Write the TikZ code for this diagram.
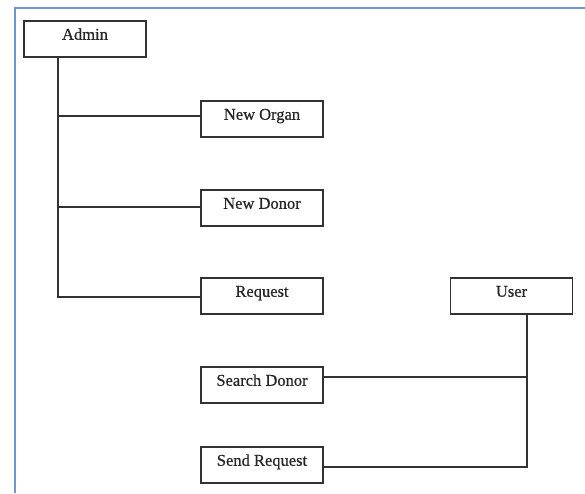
\documentclass[tikz,border=0pt]{standalone}
\usepackage{fontspec}
\setmainfont{Liberation Serif}
\newfontfamily\boxfont[FakeBold=0.7]{Liberation Serif}
\definecolor{frameblue}{RGB}{112,150,204}
\definecolor{linegray}{RGB}{50,50,50}
\tikzset{
  box/.style={draw=linegray, line width=1.5pt, minimum width=122pt, minimum height=36pt,
    inner sep=0pt, text height=11pt, text depth=9.5pt, font=\boxfont\fontsize{16.5}{16.5}\selectfont, text=black!85},
  conn/.style={draw=linegray, line width=1.4pt}
}
\begin{document}
\begin{tikzpicture}[x=1pt,y=-1pt]
\useasboundingbox (0,0) rectangle (585,493);
\draw[frameblue, line width=2pt] (15,493) -- (15,8) -- (585,8);
\node[box] (admin) at (85,39) {Admin};
\node[box] (organ) at (262,119) {New Organ};
\node[box] (donor) at (262,208) {New Donor};
\node[box] (req) at (262,296) {Request};
\node[box] (user) at (511.5,296) {User};
\node[box] (search) at (262,385) {Search Donor};
\node[box] (send) at (262,465) {Send Request};
\coordinate (a1) at (58,116);
\coordinate (a2) at (58,207);
\coordinate (a3) at (58,297);
\coordinate (u1) at (527,377);
\coordinate (u2) at (527,467);
\draw[conn] (admin.south -| a1) -- (a3) -- (a3 -| req.west);
\draw[conn] (a1) -- (a1 -| organ.west);
\draw[conn] (a2) -- (a2 -| donor.west);
\draw[conn] (user.south -| u1) -- (u2) -- (u2 -| send.east);
\draw[conn] (u1) -- (u1 -| search.east);
\end{tikzpicture}
\end{document}
